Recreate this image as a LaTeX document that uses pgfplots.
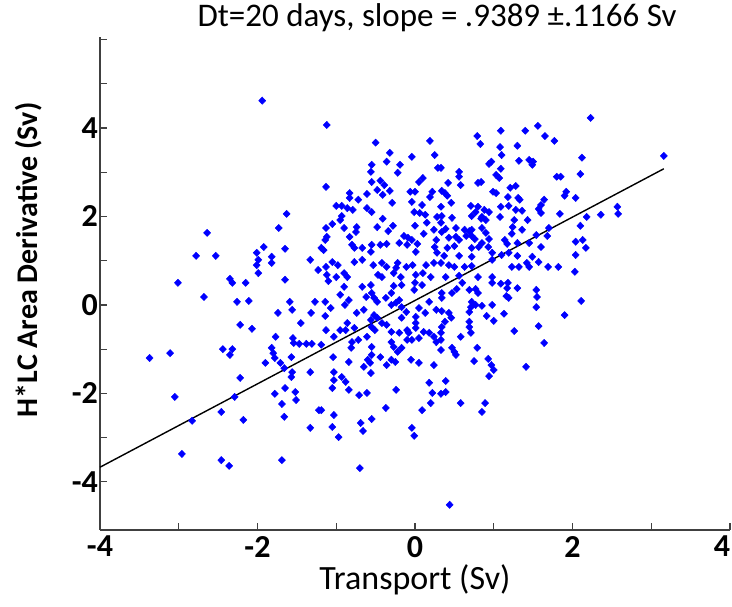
\documentclass[border=0pt]{standalone}
\usepackage{fontspec}
\setmainfont{Carlito}
\usepackage{pgfplots}
\pgfplotsset{compat=1.18}
\definecolor{ptblue}{RGB}{0,0,255}

% transport (Sv) vs H*LC area derivative (Sv)
\pgfplotstableread{
x y
-1.94 4.62
-1.63 2.06
-1.73 1.74
-2.64 1.63
-2.78 1.11
-2.53 1.11
-3.01 0.50
-2.68 0.18
-2.35 0.59
-2.32 0.50
-2.15 0.50
-2.26 0.07
-2.11 0.09
-1.99 1.02
-2.01 1.18
-1.92 1.31
-2.01 0.90
-1.99 0.72
-1.82 1.09
-1.82 0.95
-1.65 1.27
-1.65 0.57
-1.59 0.07
-1.33 1.02
-1.23 0.79
-1.27 0.07
-1.56 -0.11
-1.74 -0.18
-1.45 -0.41
-1.32 -0.18
-2.22 -0.45
-2.07 -0.54
-3.37 -1.20
-3.11 -1.09
-2.44 -1.00
-2.32 -1.00
-2.35 -1.13
-1.77 -0.72
-1.55 -0.75
-1.54 -0.86
-1.47 -0.88
-1.38 -0.88
-1.31 -0.88
-1.82 -0.97
-1.80 -1.09
-1.78 -1.20
-1.90 -1.31
-1.71 -1.31
-1.66 -1.43
-1.57 -1.18
-1.56 -1.52
-1.57 -1.63
-1.33 -1.52
-2.22 -1.65
-3.05 -2.08
-2.29 -2.08
-1.78 -2.01
-1.65 -1.88
-1.52 -1.97
-1.51 -2.15
-1.69 -2.24
-1.66 -2.53
-2.46 -2.42
-2.83 -2.62
-2.18 -2.60
-1.22 -2.38
-1.33 -2.78
-2.96 -3.37
-2.46 -3.51
-2.36 -3.64
-1.69 -3.51
-1.12 4.07
1.56 4.05
-0.50 3.67
0.19 3.71
-0.32 3.44
-0.04 3.35
0.25 3.39
-0.36 3.24
-0.19 3.17
-0.55 3.17
-0.22 2.99
-0.56 3.01
0.29 3.10
-0.55 2.78
-0.44 2.81
-0.39 2.71
0.05 2.78
0.10 2.87
-1.13 2.67
-0.48 2.60
-0.32 2.58
-0.41 2.49
-0.06 2.56
0.00 2.56
0.22 2.56
-0.83 2.53
-0.83 2.42
-0.61 2.51
-0.72 2.38
-0.29 2.31
-0.04 2.33
0.19 2.44
0.09 2.26
-1.00 2.24
-0.93 2.24
-0.86 2.19
-0.79 2.15
-0.61 2.19
-0.55 2.10
-0.41 1.95
-0.01 2.10
0.06 2.08
-0.93 2.01
-0.95 1.92
-1.05 1.83
-1.13 1.74
-0.90 1.74
-0.74 1.76
-0.48 1.76
-0.28 1.79
0.00 1.79
0.15 1.86
0.28 1.99
0.13 2.04
-1.12 1.54
-0.83 1.54
-0.75 1.65
-0.34 1.67
-0.14 1.56
-0.09 1.52
-0.04 1.47
0.03 1.38
0.11 1.61
0.24 1.70
0.27 1.47
-1.14 1.47
-0.80 1.36
-0.67 1.29
-0.77 1.29
-0.55 1.36
-0.44 1.36
-0.36 1.38
-0.20 1.40
-0.10 1.36
0.25 1.31
-1.16 1.24
-1.19 1.29
-0.56 1.20
0.01 1.20
0.28 1.18
-1.05 0.97
-0.98 0.90
-0.77 0.97
-0.67 1.02
-0.53 0.90
-0.42 0.95
-0.36 0.86
-0.22 0.95
-0.11 0.86
-0.03 0.90
0.14 0.90
0.24 0.95
-1.13 0.86
-1.12 0.68
-1.00 0.63
-0.90 0.72
-0.86 0.63
-0.47 0.68
-0.42 0.63
-0.27 0.72
-0.18 0.63
0.01 0.68
0.10 0.72
0.20 0.63
-0.24 0.84
0.79 3.82
1.09 3.94
1.40 3.94
1.65 3.82
1.77 3.71
0.83 3.64
1.08 3.57
1.30 3.60
1.10 3.39
0.97 3.24
0.94 3.19
1.32 3.26
1.45 3.28
1.50 3.24
1.49 3.17
0.33 3.10
1.09 3.08
1.03 2.94
1.07 2.87
0.56 3.01
0.56 2.90
0.58 2.71
0.42 2.76
0.80 2.76
0.84 2.78
1.80 2.90
1.28 2.69
1.21 2.65
0.99 2.56
1.03 2.53
0.34 2.58
0.38 2.53
0.41 2.47
0.46 2.31
1.31 2.42
1.18 2.44
1.33 2.38
1.64 2.38
1.60 2.26
0.33 2.22
0.71 2.24
0.80 2.22
0.77 2.10
0.88 2.15
0.94 2.10
1.09 2.22
1.19 2.24
1.28 2.15
1.36 2.13
1.57 2.17
1.60 2.08
1.43 1.92
1.26 1.92
1.08 1.99
0.85 1.99
0.72 2.01
0.84 1.95
0.90 1.92
0.47 1.97
0.34 2.01
0.33 1.86
0.85 1.74
0.90 1.63
1.24 1.76
1.36 1.70
1.23 1.61
1.54 1.58
1.68 1.56
1.70 1.74
0.52 1.74
0.39 1.72
0.34 1.65
0.63 1.70
0.69 1.67
0.72 1.70
0.65 1.56
0.72 1.56
0.52 1.54
0.76 1.49
0.43 1.52
0.56 1.47
0.85 1.40
0.94 1.49
1.14 1.47
1.17 1.38
1.30 1.40
0.93 1.31
0.81 1.31
0.72 1.29
0.41 1.29
0.50 1.33
1.45 1.40
1.60 1.31
0.56 1.11
0.37 1.11
0.72 1.09
0.98 1.18
1.10 1.13
1.19 1.18
1.30 1.11
0.98 1.02
0.33 0.95
0.43 0.90
0.50 0.86
0.63 0.86
0.72 0.88
1.49 1.09
1.57 0.97
1.42 0.95
1.45 0.86
1.32 0.86
1.69 0.86
1.82 0.86
0.39 0.63
0.56 0.66
0.80 0.63
0.98 0.63
1.23 0.86
-1.10 0.54
-0.90 0.41
-0.95 0.23
-0.84 0.11
-0.89 0.00
-1.14 0.07
-1.07 -0.07
-1.14 -0.25
-0.74 -0.18
-0.65 -0.11
-0.67 0.41
-0.62 0.18
-0.52 0.16
-0.56 0.45
-0.55 0.27
-0.48 0.07
-0.37 0.16
-0.30 0.27
-0.27 0.43
-0.17 0.45
-0.30 0.00
-0.24 0.05
-0.20 0.11
-0.17 -0.05
-0.11 -0.16
0.00 0.50
0.09 0.45
-0.01 0.34
0.18 0.07
0.27 -0.11
0.05 -0.07
0.13 -0.18
-0.52 -0.23
-0.56 -0.34
-0.48 -0.29
-0.42 -0.41
-0.36 -0.45
-0.17 -0.29
0.01 -0.27
0.01 -0.41
-0.86 -0.41
-0.77 -0.52
-0.88 -0.57
-1.13 -0.57
-0.95 -0.57
-0.55 -0.50
-0.51 -0.57
-0.30 -0.61
-0.20 -0.63
-0.10 -0.57
0.01 -0.52
-0.08 -0.63
-0.04 -0.79
-0.10 -0.79
0.05 -0.75
0.18 -0.63
0.24 -0.72
0.27 -0.84
0.11 -0.61
-0.72 -0.79
-0.80 -0.84
-0.61 -0.72
-1.03 -0.72
-1.19 -0.90
-0.81 -0.97
-0.55 -0.95
-0.30 -0.84
-0.27 -0.95
-0.55 -1.13
-0.60 -1.24
-0.57 -1.31
-0.44 -1.18
-0.22 -1.06
-0.17 -0.97
-0.25 -1.29
-0.36 -1.36
-0.30 -1.24
-0.65 -1.40
-1.04 -1.18
-0.84 -1.29
-1.03 -1.52
-0.56 -1.54
-0.05 -1.24
0.05 -1.31
0.24 -1.36
-1.03 -1.70
-0.93 -1.63
-0.88 -1.74
-1.05 -1.88
-0.84 -1.92
-0.71 -2.04
-0.61 -1.99
-0.24 -1.92
0.18 -1.76
0.22 -1.99
0.20 -2.22
0.09 -2.38
-0.37 -2.33
-1.19 -2.38
-1.03 -2.49
-0.69 -2.67
-0.55 -2.58
-1.05 -2.76
0.34 0.27
0.34 0.16
0.47 0.27
0.53 0.36
0.60 0.50
0.69 0.34
0.77 0.36
0.80 0.27
0.72 0.07
0.71 -0.05
0.77 0.00
0.85 -0.02
0.98 0.00
0.69 -0.16
0.34 -0.14
0.43 -0.18
0.46 -0.29
0.38 -0.38
0.34 -0.50
0.91 -0.25
1.00 -0.36
1.13 -0.20
0.98 0.50
1.09 0.48
1.18 0.50
1.17 0.38
1.30 0.38
1.16 0.20
1.19 0.16
1.54 0.34
1.55 0.18
1.54 -0.05
0.69 -0.38
0.69 -0.50
0.71 -0.63
0.33 -0.63
0.33 -0.79
0.58 -0.72
1.26 -0.59
1.57 -0.48
1.64 -0.86
0.33 -1.02
0.47 -0.97
0.50 -1.06
0.52 -1.13
0.79 -0.97
0.75 -1.27
0.93 -1.22
0.97 -1.36
1.00 -1.47
0.94 -1.61
1.41 -1.40
0.39 -1.72
0.39 -1.97
0.33 -2.01
0.58 -2.22
0.89 -2.22
0.85 -2.42
-0.97 -2.99
-0.70 -3.69
-0.04 -2.78
-0.01 -2.96
0.44 -4.52
-0.66 -2.85
2.23 4.23
3.16 3.37
2.12 3.33
2.10 2.96
1.85 2.90
1.92 2.56
1.90 2.47
2.04 2.42
2.57 2.22
2.58 2.06
2.36 2.04
2.18 1.99
2.10 1.79
2.04 1.43
2.13 1.47
2.17 1.29
2.04 1.13
2.03 0.75
2.11 0.09
1.84 2.06
1.90 -0.23
}\scatterdata

\begin{document}
\begin{tikzpicture}
\begin{axis}[
  at={(0pt,0pt)}, anchor=south west,
  scale only axis,
  width=630pt, height=493pt,
  xmin=-4, xmax=4,
  ymin=-5.09, ymax=6.06,
  axis x line*=bottom,
  axis y line*=left,
  axis line style={-, line width=1.3pt, black!75},
  tick align=inside,
  major tick length=7pt,
  tick style={line width=1.2pt, black!75},
  xtick={-4,-3,...,4},
  xticklabels={-4,,-2,,0,,2,,\hspace*{-16pt}4},
  ytick={-4,-3,...,6},
  yticklabels={-4,,-2,,0,,2,,4,,},
  tick label style={font=\fontsize{32}{32}\selectfont\bfseries, inner sep=2pt},
  xticklabel style={yshift=-4pt},
  /pgf/number format/assume math mode=true,
  xlabel={Transport (Sv)},
  xlabel style={font=\fontsize{34}{34}\selectfont, inner sep=0pt, yshift=-5pt},
  ylabel={H*LC Area Derivative (Sv)},
  ylabel style={at={(axis description cs:-0.113,0.548)}, anchor=center,
    font=\fontsize{30}{30}\selectfont\bfseries},
  title={Dt=20 days, slope = .9389 ±.1166 Sv},
  title style={at={(axis description cs:0.535,1)}, anchor=base, yshift=4pt,
    inner sep=0pt, font=\fontsize{33}{33}\selectfont},
  clip=false,
]
\addplot[only marks, mark=diamond*, mark size=3.6pt,
  mark options={xscale=1.3, fill=ptblue, draw=ptblue, line width=0.5pt}]
  table[x=x, y=y] {\scatterdata};
\addplot[black, line width=1.4pt] coordinates {(-4,-3.67) (3.16,3.08)};
\end{axis}
\pgfresetboundingbox
\path[use as bounding box] (-100pt,-77pt) rectangle (632pt,530pt);
\end{tikzpicture}
\end{document}
